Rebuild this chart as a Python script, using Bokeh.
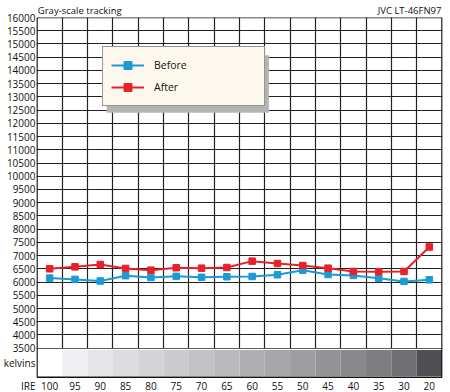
from bokeh.plotting import figure
from bokeh.models import Range1d, FixedTicker, Legend, LegendItem, BoxAnnotation, LinearAxis
from bokeh.core.properties import value
from bokeh.embed import file_html
from bokeh.resources import INLINE

# ---- data ----
ire = ["100", "95", "90", "85", "80", "75", "70", "65", "60", "55", "50", "45", "40", "35", "30", "20"]
before = [6150, 6100, 6040, 6240, 6175, 6215, 6180, 6200, 6210, 6275, 6450, 6285, 6250, 6140, 6025, 6085]
after = [6500, 6575, 6665, 6515, 6450, 6540, 6525, 6550, 6790, 6700, 6625, 6525, 6400, 6390, 6400, 7325]
y_ticks = list(range(3500, 16001, 500))
band_grays = ["#ffffff", "#efeff1", "#e6e6e9", "#dddde0", "#d4d4d7", "#cbcbce", "#c3c3c6", "#b9b9bc",
              "#b0b0b3", "#a7a7aa", "#9e9ea1", "#949497", "#89898c", "#7e7e81", "#707074", "#4e4e53"]
title_left = "Gray-scale tracking"
title_right = "JVC LT-46FN97"

FONT = "Open Sans"
BLUE = "#1b9ad6"
RED = "#e8202a"
INK = "#111111"

n = len(ire)
xs = [i + 0.5 for i in range(n)]
Y_MIN = 1825          # bottom of the canvas (IRE row lives inside the frame)
BAND_BOTTOM = 2406    # bottom edge of the chart box
band_mid = 2940       # "kelvins" row
ire_row = 2088        # "IRE" row

p = figure(width=450, height=392, x_range=Range1d(-0.02, n + 0.02), y_range=Range1d(Y_MIN, 16000),
           output_backend="svg", toolbar_location=None, x_axis_location=None,
           min_border_left=35, min_border_right=8, min_border_top=14, min_border_bottom=0)
p.background_fill_color = "white"
p.border_fill_color = "white"
p.outline_line_color = None

def style_axis(ax, size="10px", standoff=1):
    ax.axis_line_color = None
    ax.major_tick_line_color = None
    ax.minor_tick_line_color = None
    ax.major_tick_out = 0
    ax.major_tick_in = 0
    ax.minor_tick_out = 0
    ax.minor_tick_in = 0
    ax.major_label_text_font = FONT
    ax.major_label_text_font_size = size
    ax.major_label_text_color = INK
    ax.major_label_standoff = standoff

# left axis: kelvin ticks + "kelvins" and "IRE" captions
p.yaxis.ticker = FixedTicker(ticks=[ire_row, band_mid] + y_ticks)
p.yaxis.major_label_overrides = {band_mid: "kelvins", ire_row: "IRE"}
style_axis(p.yaxis[0], standoff=1)

# top axis used for the two headings
t_left_x, t_right_x = 1.69, 14.72
top = LinearAxis(ticker=FixedTicker(ticks=[t_left_x, t_right_x]),
                 major_label_overrides={t_left_x: title_left, t_right_x: title_right})
style_axis(top, size="9.5px", standoff=1)
p.add_layout(top, "above")

# grid
p.xgrid.ticker = FixedTicker(ticks=list(range(1, n)))
p.xgrid.grid_line_color = "#222222"
p.xgrid.grid_line_width = 1.2
p.ygrid.ticker = FixedTicker(ticks=y_ticks)
p.ygrid.grid_line_color = "#222222"
p.ygrid.grid_line_width = 1

# white area below the 3500 line, kelvins band and chart box
p.quad(left=[-0.02], right=[n + 0.02], bottom=[Y_MIN], top=[3478], fill_color="white", line_color=None)
p.quad(left=list(range(n)), right=list(range(1, n + 1)), bottom=[2450] * n, top=[3435] * n,
       fill_color=band_grays, line_color=None)
p.quad(left=[0], right=[n], bottom=[BAND_BOTTOM], top=[16000], fill_color=None,
       line_color=INK, line_width=1.5)

# IRE tick labels
p.text(x=xs, y=[ire_row] * n, text=ire, text_font=value(FONT), text_font_size="10px",
       text_align="center", text_baseline="middle", text_color=INK)

# series
lb = p.line(xs, before, line_color=BLUE, line_width=2)
sb = p.scatter(xs, before, marker="square", size=6.5, fill_color=BLUE, line_color=BLUE)
la = p.line(xs, after, line_color=RED, line_width=2)
sa = p.scatter(xs, after, marker="square", size=6.5, fill_color=RED, line_color=RED)

# legend shadow + legend
shadow = BoxAnnotation(left=2.75, right=9.16, top=14575, bottom=12400,
                       fill_color="#b4b4b4", fill_alpha=1, line_color=None)
p.add_layout(shadow)
legend = Legend(items=[LegendItem(label="Before", renderers=[lb, sb]),
                       LegendItem(label="After", renderers=[la, sa])],
                location=(66, 286))
legend.background_fill_color = "#fdf8ee"
legend.background_fill_alpha = 1
legend.border_line_color = "#333333"
legend.border_line_width = 1
legend.padding = 8
legend.spacing = 2
legend.margin = 0
legend.glyph_width = 33
legend.glyph_height = 20
legend.label_height = 20
legend.label_width = 102
legend.label_standoff = 10
legend.label_text_font = FONT
legend.label_text_font_size = "10.5px"
legend.label_text_color = INK
p.add_layout(legend, "center")

open("out.html", "w").write(file_html(p, INLINE))
